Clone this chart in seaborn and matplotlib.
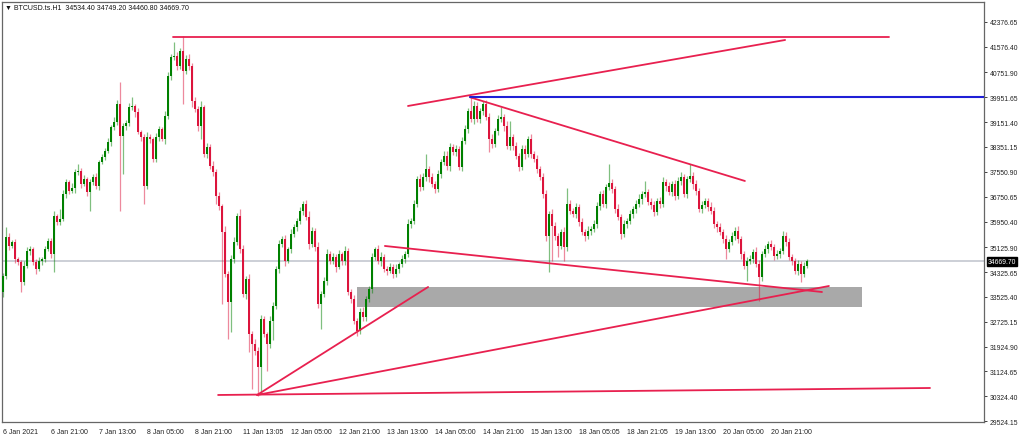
import matplotlib
matplotlib.use("Agg")
import matplotlib.pyplot as plt
import matplotlib.transforms as mtransforms
from matplotlib.patches import Rectangle
import pandas as pd
import seaborn as sns

# --- data (H1 bars, left to right) ---
symbol = "BTCUSD.ts.H1"
last_ohlc = ["34534.40", "34749.20", "34460.80", "34669.70"]
last_price = 34669.70
first_open = 33682

closes = [
    34198, 35453, 35164, 35292, 34745, 34648, 34004, 34520, 35003, 35067, 34648, 34423, 34681, 34745, 35067, 35325, 34906, 36130, 35936, 36033,
    36838, 37224, 36935, 37031, 37546, 37579, 37160, 37321, 36902, 37224, 37385, 37096, 37868, 38029, 38223, 38512, 38995, 39156, 39736, 38706,
    39028, 39124, 39639, 39672, 39478, 38834, 38673, 37096, 38673, 38609, 37965, 38673, 38931, 38609, 39350, 40638, 41249, 41282, 40960, 41443,
    40799, 41185, 40960, 39833, 39575, 39028, 39639, 38126, 38351, 37740, 37546, 36774, 36452, 35614, 34262, 33360, 34745, 35292, 36130, 35067,
    33618, 34101, 32330, 32008, 31783, 31267, 32813, 32330, 32008, 32749, 33232, 34423, 35228, 35389, 34681, 35067, 35550, 35775, 35969, 36291,
    36516, 36097, 35228, 35647, 35131, 33296, 33618, 34037, 34906, 34681, 34809, 34487, 34906, 34681, 35003, 33682, 33457, 32749, 32427, 33038,
    32877, 33457, 33779, 34809, 35067, 34681, 34809, 34423, 34359, 34487, 34262, 34423, 34584, 34745, 34906, 35872, 35969, 36516, 37321, 37063,
    37385, 37643, 37385, 37160, 36999, 37482, 37868, 38062, 37740, 38351, 38190, 38287, 37707, 38545, 38931, 39511, 39253, 39672, 39253, 39511,
    39736, 39317, 38609, 38448, 38867, 39253, 39317, 39028, 38384, 38673, 38384, 38062, 37707, 38287, 38126, 38609, 38126, 37965, 37643, 37385,
    36838, 35486, 36194, 35808, 35486, 35164, 35614, 35131, 36516, 36291, 36194, 36419, 35936, 35614, 35486, 35647, 35711, 35872, 36452, 36838,
    36516, 37063, 37192, 36999, 36355, 36097, 35550, 35872, 35969, 36194, 36355, 36516, 36677, 36838, 36902, 36580, 36484, 36258, 36613, 36516,
    37224, 37096, 36902, 37160, 36774, 37257, 37385, 36838, 37321, 37418, 37160, 36935, 36355, 36484, 36613, 36419, 36291, 35872, 35775, 35614,
    35389, 35067, 35292, 35486, 35647, 35389, 34906, 34520, 34681, 34745, 34970, 34584, 34165, 34906, 35067, 35228, 35131, 34842, 34906, 35003,
    35486, 35292, 34809, 34681, 34359, 34584, 34262, 34534.4, 34669.7,
]

upper_wick = [
    90, 320, 130, 70, 110, 60, 80, 150, 120, 90, 60, 100, 140, 70, 90, 110, 80, 150, 60, 320,
    120, 90, 70, 160, 100, 225, 80, 130, 60, 110, 90, 140, 70, 100, 80, 120, 60, 150, 130, 710,
    90, 110, 140, 290, 70, 120, 80, 100, 160, 90, 60, 130, 110, 80, 150, 120, 90, 450, 140, 100,
    480, 120, 160, 90, 140, 110, 200, 80, 130, 100, 150, 90, 120, 70, 180, 110, 140, 160, 90, 225,
    130, 110, 150, 90, 170, 120, 140, 100, 80, 160, 120, 90, 140, 110, 130, 80, 150, 100, 90, 120,
    100, 140, 180, 120, 90, 160, 110, 130, 150, 90, 120, 100, 140, 80, 170, 110, 90, 130, 100, 120,
    150, 90, 110, 140, 80, 120, 160, 100, 90, 130, 110, 150, 80, 120, 100, 170, 90, 140, 110, 160,
    120, 480, 100, 140, 90, 130, 110, 150, 160, 120, 100, 140, 90, 130, 120, 110, 480, 150, 130, 100,
    100, 140, 120, 160, 90, 130, 320, 110, 150, 500, 100, 130, 90, 140, 120, 110, 160, 90, 130, 100,
    140, 120, 100, 160, 130, 90, 110, 150, 520, 120, 100, 140, 90, 130, 110, 160, 100, 120, 140, 90,
    130, 110, 610, 120, 100, 150, 90, 140, 110, 130, 100, 120, 160, 90, 350, 110, 140, 120, 100, 130,
    160, 110, 140, 90, 130, 120, 150, 100, 110, 390, 120, 140, 90, 130, 110, 100, 150, 120, 90, 140,
    110, 130, 100, 120, 130, 150, 90, 110, 140, 120, 100, 160, 130, 90, 120, 110, 140, 100, 130, 90,
    160, 120, 140, 100, 110, 130, 90, 120, 80,
]

lower_wick = [
    150, 90, 120, 80, 140, 100, 320, 110, 70, 130, 90, 160, 80, 120, 100, 70, 140, 580, 90, 110,
    80, 130, 100, 70, 150, 90, 120, 80, 140, 610, 100, 90, 130, 70, 110, 80, 120, 100, 90, 2415,
    1220, 130, 90, 110, 150, 80, 120, 580, 100, 140, 90, 110, 130, 70, 160, 90, 120, 100, 140, 110,
    1060, 90, 130, 190, 110, 150, 420, 100, 130, 90, 120, 260, 140, 2320, 110, 1190, 970, 120, 90, 140,
    110, 160, 580, 1450, 120, 930, 870, 100, 870, 140, 600, 90, 130, 110, 150, 80, 120, 100, 140, 90,
    130, 110, 150, 100, 140, 120, 800, 90, 130, 110, 100, 150, 80, 120, 140, 90, 130, 110, 160, 100,
    120, 140, 90, 130, 110, 100, 150, 90, 120, 80, 140, 110, 130, 90, 120, 100, 140, 110, 90, 130,
    100, 120, 150, 90, 140, 110, 130, 100, 120, 160, 90, 140, 110, 130, 100, 120, 90, 150, 110, 130,
    120, 100, 420, 140, 90, 130, 110, 150, 100, 120, 140, 90, 130, 110, 160, 100, 120, 90, 140, 110,
    130, 150, 1160, 1130, 120, 350, 90, 450, 140, 110, 100, 130, 120, 90, 150, 110, 140, 100, 120, 130,
    110, 140, 90, 130, 120, 100, 160, 110, 140, 90, 130, 120, 100, 150, 110, 90, 140, 120, 100, 130,
    110, 150, 90, 130, 120, 100, 140, 110, 130, 90, 150, 120, 100, 140, 110, 130, 90, 120, 150, 100,
    140, 320, 110, 90, 130, 120, 150, 100, 480, 110, 130, 90, 770, 120, 100, 140, 110, 130, 90, 120,
    100, 140, 110, 130, 90, 120, 260, 110, 74,
]

time_labels = ["6 Jan 2021", "6 Jan 21:00", "7 Jan 13:00", "8 Jan 05:00", "8 Jan 21:00",
               "11 Jan 13:05", "12 Jan 05:00", "12 Jan 21:00", "13 Jan 13:00", "14 Jan 05:00",
               "14 Jan 21:00", "15 Jan 13:00", "18 Jan 05:05", "18 Jan 21:05", "19 Jan 13:00",
               "20 Jan 05:00", "20 Jan 21:00"]
price_labels = ["42376.65", "41576.40", "40751.90", "39951.65", "39151.40", "38351.15",
                "37550.90", "36750.65", "35950.40", "35125.90", "34325.65", "33525.40",
                "32725.15", "31924.90", "31124.65", "30324.40", "29524.15"]

# drawn objects: (bar_from, price_from, bar_to, price_to)
red_lines = [
    (56.7, 41880, 295.3, 41880),
    (135.0, 39672, 260.7, 41797),
    (155.7, 39952, 247.3, 37257),
    (127.3, 35164, 273.0, 33682),
    (84.7, 30366, 141.7, 33843),
    (84.7, 30366, 275.3, 33875),
    (71.7, 30366, 309.0, 30591),
]
blue_line = (155.7, 39951.65, 327.0, 39951.65)
zone = (118.0, 286.3, 33199, 33843)  # bar_from, bar_to, price_low, price_high

df = pd.DataFrame({"close": closes, "up": upper_wick, "dn": lower_wick})
df["open"] = [first_open] + closes[:-1]
df["high"] = df[["open", "close"]].max(axis=1) + df["up"]
df["low"] = df[["open", "close"]].min(axis=1) - df["dn"]
df["bull"] = df["close"] >= df["open"]
df["bar"] = range(len(df))

bull_col = "#008000"
bear_col = "#dc143c"
line_col = "#e8204f"

sns.set_style("white")
plt.rcParams["font.family"] = ["Liberation Sans", "DejaVu Sans"]

fig = plt.figure(figsize=(10.24, 4.39), dpi=100)
ax = fig.add_axes([2 / 1024, 16 / 439, 982 / 1024, 420 / 439])

# grey zone behind the candles
ax.add_patch(Rectangle((zone[0], zone[2]), zone[1] - zone[0], zone[3] - zone[2],
                       facecolor="#a9a9a9", edgecolor="none", zorder=1))
ax.axhline(last_price, color="#c3c7cf", lw=1.2, zorder=1.5)

for is_bull, col in [(True, bull_col), (False, bear_col)]:
    d = df[df["bull"] == is_bull]
    ax.vlines(d["bar"], d["low"], d["high"], color=col, lw=0.9, alpha=0.5, zorder=2)
    body_lo = d[["open", "close"]].min(axis=1)
    body_h = (d["close"] - d["open"]).abs().clip(lower=25)
    ax.bar(d["bar"], body_h, bottom=body_lo, width=0.62, color=col, linewidth=0, zorder=3)

for x0, y0, x1, y1 in red_lines:
    sns.lineplot(x=[x0, x1], y=[y0, y1], ax=ax, color=line_col, linewidth=1.3, sort=False, zorder=4)
sns.lineplot(x=[blue_line[0], blue_line[2]], y=[blue_line[1], blue_line[3]], ax=ax,
             color="#1f1fd6", linewidth=1.5, sort=False, zorder=4)

ax.set_xlim(-0.33, 327)
ax.set_ylim(29496, 43020)
ax.set_xlabel("")
ax.set_ylabel("")

ax.set_xticks(range(0, 16 * len(time_labels), 16))
ax.set_xticklabels(time_labels, ha="left", fontsize=5.0)
ax.tick_params(axis="x", length=3, width=0.6, pad=1.5, colors="#222222")

ax.yaxis.tick_right()
ax.set_yticks([float(p) for p in price_labels])
ax.set_yticklabels(price_labels, fontsize=4.9)
ax.tick_params(axis="y", length=2.5, width=0.6, pad=1.5, colors="#222222")

for side in ["left", "right", "top", "bottom"]:
    ax.spines[side].set_visible(True)
    ax.spines[side].set_color("#666666")
    ax.spines[side].set_linewidth(0.9)

# current price tag on the price scale
trans = mtransforms.blended_transform_factory(ax.transAxes, ax.transData)
ax.text(1.004, last_price, last_ohlc[3], transform=trans, fontsize=4.9, color="white",
        va="center", ha="left", zorder=6,
        bbox=dict(facecolor="black", edgecolor="black", pad=0.8), clip_on=False)

fig.text(5 / 1024, 1 - 8 / 439, "\u25bc " + symbol + "  " + " ".join(last_ohlc),
         fontsize=5.0, va="center", ha="left", color="#111111",
         family=["Liberation Sans", "DejaVu Sans"])

fig.savefig("out.png", dpi=100)
